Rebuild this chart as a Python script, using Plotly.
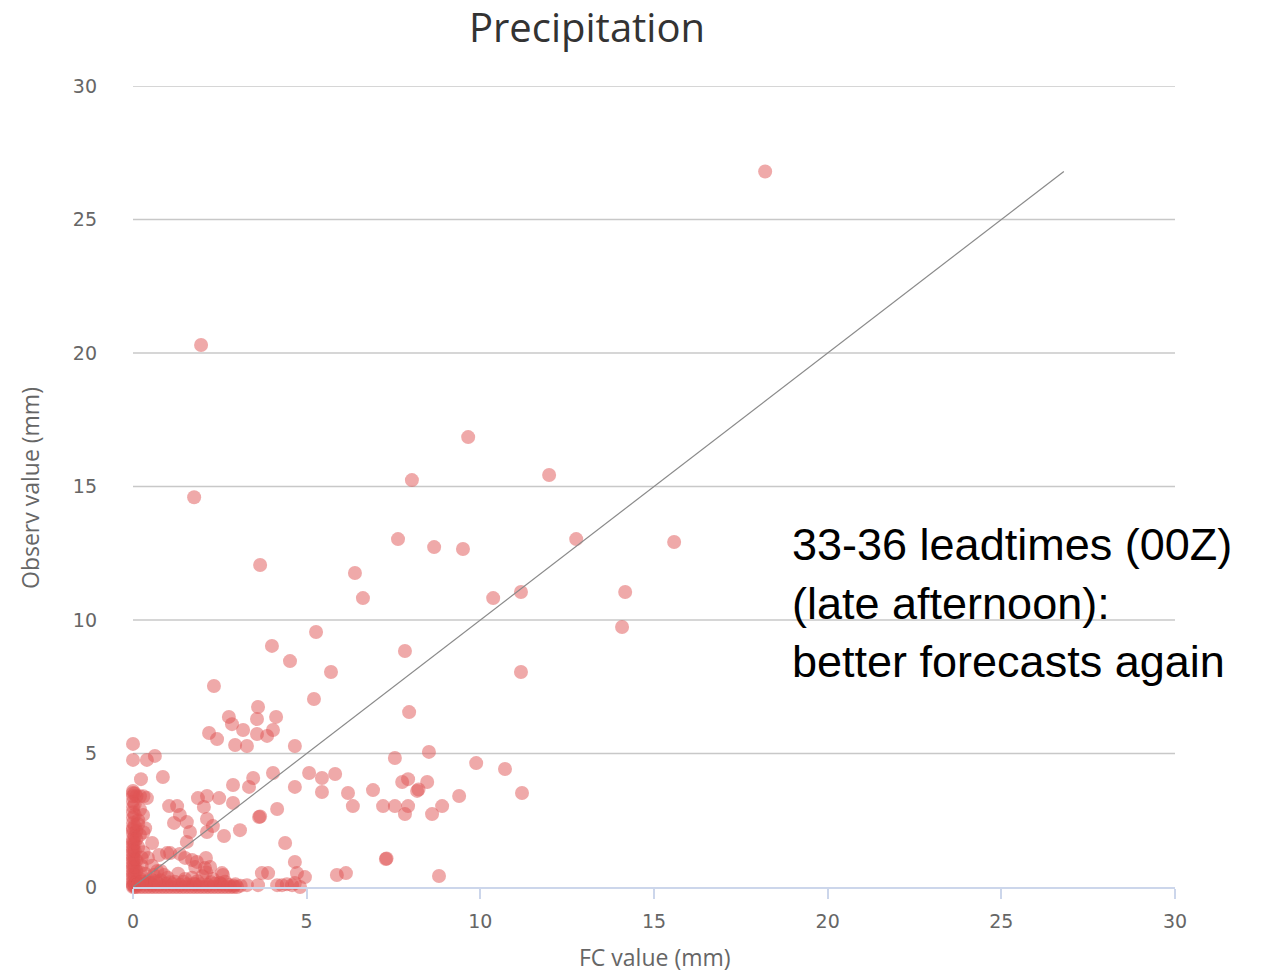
import plotly.graph_objects as go

# forecast (x) and observed (y) precipitation pairs, mm
fc_high = [18.2, 1.96, 1.76, 9.65, 8.03, 11.98, 7.63, 8.67, 9.5, 12.76, 15.58, 3.66, 6.39, 6.62,
           10.37, 11.17, 14.17, 14.08, 5.27, 4.0, 7.83, 4.52, 5.7, 11.17, 2.33, 5.21, 7.95]
obs_high = [26.8, 20.3, 14.6, 16.85, 15.24, 15.43, 13.03, 12.73, 12.66, 13.03, 12.92, 12.06, 11.76, 10.82,
            10.82, 11.05, 11.05, 9.74, 9.55, 9.03, 8.84, 8.46, 8.05, 8.05, 7.53, 7.04, 6.55]

fc_mid = [3.6, 2.76, 3.57, 4.12, 2.85, 3.17, 4.03, 2.19, 2.42, 3.57, 3.86, 2.94, 3.28, 4.66,
          0.0, 0.0, 0.4, 0.63, 0.23, 0.86,
          7.54, 8.52, 9.88, 10.71, 7.75, 7.92, 8.47, 8.18, 8.22, 9.39, 11.2, 7.2, 7.54, 7.92, 7.83, 8.61, 8.9,
          5.82, 5.07, 5.44, 4.66, 5.44, 6.19, 6.91, 6.33, 4.15, 3.63, 3.66, 3.08, 4.38, 4.66,
          2.88, 3.34, 3.46, 4.03]
obs_mid = [6.74, 6.37, 6.29, 6.37, 6.1, 5.88, 5.88, 5.77, 5.54, 5.73, 5.66, 5.32, 5.28, 5.28,
           5.36, 4.76, 4.76, 4.91, 4.04, 4.12,
           4.83, 5.06, 4.64, 4.42, 3.93, 4.04, 3.93, 3.6, 3.65, 3.41, 3.52, 3.03, 3.03, 3.03, 2.73, 2.73, 3.03,
           4.23, 4.27, 4.08, 3.75, 3.56, 3.52, 3.63, 3.03, 2.92, 2.62, 2.64, 2.13, 1.65, 0.94,
           3.82, 3.75, 4.08, 4.27]

fc_low = [0.0, 0.4, 1.04, 1.27, 1.87, 2.13, 2.48, 2.88, 2.04,
          0.29, 0.0, 0.55, 1.35, 1.18, 1.55, 2.13, 2.3, 2.62, 1.64, 2.13, 1.55, 1.07, 1.35, 2.1, 1.7,
          2.22, 2.59, 0.43, 1.5, 1.84, 1.79, 2.07, 2.56, 0.98,
          7.28, 7.3, 5.87, 6.13, 8.81, 4.95, 4.72, 3.71, 3.89,
          3.28, 3.6, 4.15, 4.29, 4.43, 4.58, 4.81, 4.66]
obs_low = [3.52, 3.33, 3.03, 3.03, 3.33, 3.41, 3.33, 3.15, 3.0,
           2.7, 2.13, 1.65, 2.7, 2.4, 2.43, 2.55, 2.28, 1.91, 2.06, 2.06, 1.69, 1.27, 1.24, 1.09, 1.01,
           0.75, 0.45, 1.09, 1.09, 0.94, 0.75, 0.71, 0.52, 1.27,
           1.05, 1.07, 0.45, 0.52, 0.41, 0.37, 0.52, 0.52, 0.52,
           0.07, 0.07, 0.07, 0.07, 0.1, 0.07, 0.0, 0.15]

# dense column of near-zero forecasts
fc_col = [0.0, 0.0, 0.0, 0.0, 0.0, 0.0, 0.0, 0.0, 0.0, 0.0, 0.0, 0.0, 0.0, 0.0, 0.0, 0.0, 0.0,
          0.0, 0.0, 0.0, 0.0, 0.0, 0.0, 0.0, 0.0, 0.0, 0.0, 0.0, 0.0,
          0.1, 0.1, 0.1, 0.15, 0.1, 0.15, 0.1, 0.2, 0.2, 0.2, 0.25, 0.3, 0.35, 0.3,
          0.35, 0.5, 0.7, 0.8,
          0.05, 0.05, 0.05, 0.05, 0.05, 0.05, 0.05, 0.05, 0.05, 0.05, 0.05, 0.05,
          0.15, 0.2, 0.25, 0.1, 0.2, 0.15, 0.3, 0.45, 0.6, 0.9, 0.55, 0.75]
obs_col = [0.0, 0.05, 0.1, 0.2, 0.3, 0.4, 0.5, 0.6, 0.7, 0.8, 0.9, 1.0, 1.1, 1.2, 1.3, 1.4, 1.5,
           1.6, 1.7, 1.8, 2.0, 2.2, 2.4, 2.6, 2.8, 3.0, 3.2, 3.4, 3.6,
           0.2, 0.6, 1.0, 1.5, 2.1, 2.5, 3.4, 3.4, 2.9, 0.3, 0.8, 1.3, 2.2, 3.4,
           0.5, 0.3, 0.6, 0.25,
           0.15, 0.45, 0.75, 1.05, 1.35, 1.65, 1.9, 2.3, 2.7, 3.1, 3.5, 0.0,
           0.1, 0.55, 1.1, 1.8, 1.95, 2.35, 2.05, 0.2, 0.15, 0.45, 0.8, 1.2]

# dense row of near-zero observations
fc_row = [0.1, 0.2, 0.3, 0.4, 0.5, 0.6, 0.7, 0.8, 0.9, 1.0, 1.1, 1.2, 1.3, 1.4, 1.5, 1.6, 1.7,
          1.8, 1.9, 2.0, 2.1, 2.2, 2.3, 2.4, 2.5, 2.6, 2.7, 2.8, 2.9, 3.0,
          0.5, 1.2, 1.8, 2.5, 2.9, 1.0, 1.5, 2.0, 0.6, 1.3, 1.7, 2.3,
          0.15, 0.35, 0.55, 0.75, 0.95, 1.15, 1.35, 1.55, 1.75, 1.95, 2.15, 2.35, 2.55, 2.75, 2.95, 3.1,
          0.25, 0.65, 1.05, 1.45, 1.85, 2.25, 2.65, 0.8, 2.1]
obs_row = [0.0, 0.0, 0.0, 0.0, 0.0, 0.0, 0.0, 0.0, 0.0, 0.0, 0.0, 0.0, 0.0, 0.0, 0.0, 0.0, 0.0,
           0.0, 0.0, 0.0, 0.0, 0.0, 0.0, 0.0, 0.0, 0.0, 0.0, 0.0, 0.0, 0.0,
           0.15, 0.2, 0.1, 0.15, 0.05, 0.35, 0.3, 0.4, 0.45, 0.5, 0.35, 0.3,
           0.1, 0.12, 0.08, 0.1, 0.12, 0.1, 0.08, 0.1, 0.12, 0.1, 0.08, 0.12, 0.1, 0.08, 0.1, 0.05,
           0.2, 0.22, 0.18, 0.2, 0.22, 0.18, 0.2, 0.6, 0.55]

fc = fc_high + fc_mid + fc_low + fc_col + fc_row
obs = obs_high + obs_mid + obs_low + obs_col + obs_row

line_x = [0, 26.8]
line_y = [0, 26.8]

x_ticks = [0, 5, 10, 15, 20, 25, 30]
y_ticks = [0, 5, 10, 15, 20, 25, 30]

title_text = "Precipitation"
x_title = "FC value (mm)"
y_title = "Observ value (mm)"
note_text = "33-36 leadtimes (00Z)<br>(late afternoon):<br>better forecasts again"

fig = go.Figure()
fig.add_trace(go.Scatter(
    x=fc, y=obs, mode="markers",
    marker=dict(size=14, color="rgba(223,83,83,0.5)", line=dict(width=0)),
    cliponaxis=False, showlegend=False, hoverinfo="x+y"))
fig.add_trace(go.Scatter(
    x=line_x, y=line_y, mode="lines",
    line=dict(color="#8a8a8a", width=1.2),
    showlegend=False, hoverinfo="skip"))

# horizontal grid lines drawn as shapes so the one at the top edge shows too
grid_shapes = [dict(type="line", xref="paper", yref="y", x0=0, x1=1, y0=v, y1=v,
                    line=dict(color="#c8c8c8", width=1.5), layer="below")
               for v in y_ticks if v > 0]

fig.update_layout(
    width=1263, height=973,
    paper_bgcolor="white", plot_bgcolor="white",
    margin=dict(l=133, r=88, t=86, b=86),
    title=dict(text=title_text, x=587/1263, xanchor="center", y=1-28/973, yanchor="middle",
               yref="container", font=dict(family="Open Sans", size=40, color="#333333")),
    xaxis=dict(range=[0, 30], tickvals=x_ticks, showgrid=False, zeroline=False,
               showline=True, linecolor="#ccd6eb", linewidth=1.5,
               ticks="outside", ticklen=10, tickcolor="#ccd6eb", tickwidth=1.5,
               ticklabelstandoff=6,
               tickfont=dict(family="DejaVu Sans", size=19, color="#666666")),
    yaxis=dict(range=[0, 30], tickvals=y_ticks, showgrid=False,
               zeroline=False, showline=False, ticks="", ticklabelstandoff=35,
               tickfont=dict(family="DejaVu Sans", size=19, color="#666666")),
    shapes=grid_shapes,
    annotations=[
        dict(text=x_title, xref="paper", yref="paper", x=(655-133)/1042, y=(887-957)/801,
             xanchor="center", yanchor="middle", showarrow=False,
             font=dict(family="Open Sans", size=23, color="#666666")),
        dict(text=y_title, xref="paper", yref="paper", x=(30-133)/1042, y=(887-488)/801,
             xanchor="center", yanchor="middle", showarrow=False, textangle=-90,
             font=dict(family="Open Sans", size=23, color="#666666")),
        dict(text=note_text, xref="paper", yref="paper", x=(790-133)/1042, y=(887-603)/801,
             xanchor="left", yanchor="middle", align="left", showarrow=False,
             font=dict(family="Liberation Sans", size=45, color="#000000")),
    ],
)

fig.write_html("out.html")
